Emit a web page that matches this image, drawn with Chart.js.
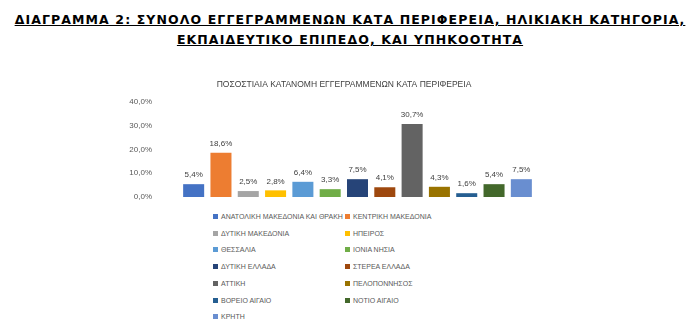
<!DOCTYPE html>
<html>
<head>
<meta charset="utf-8">
<script src="https://cdn.jsdelivr.net/npm/chart.js@4/dist/chart.umd.min.js"></script>
<style>
    body { margin: 0; background: #fff; width: 700px; height: 326px; overflow: hidden; position: relative; font-family: "Liberation Sans", sans-serif; }
    #heading { position: absolute; left: 0; top: 10px; width: 700px; text-align: center; font-family: "DejaVu Sans", sans-serif; font-weight: bold; font-size: 12.5px; line-height: 20px; text-decoration: underline; color: #000; letter-spacing: 1.1px; }
    #regionChart { position: absolute; left: 100px; top: 70px; }
    #legend { position: absolute; left: 213px; top: 212px; width: 300px; }
    .lg { position: absolute; font-size: 7px; color: #595959; white-space: nowrap; line-height: 10px; }
    .lg i { display: inline-block; width: 5px; height: 5px; margin-right: 3px; vertical-align: 0px; }
</style>
</head>
<body>
<div id="heading">ΔΙΑΓΡΑΜΜΑ 2: ΣΥΝΟΛΟ ΕΓΓΕΓΡΑΜΜΕΝΩΝ ΚΑΤΑ ΠΕΡΙΦΕΡΕΙΑ, ΗΛΙΚΙΑΚΗ ΚΑΤΗΓΟΡΙΑ,<br>ΕΚΠΑΙΔΕΥΤΙΚΟ ΕΠΙΠΕΔΟ, ΚΑΙ ΥΠΗΚΟΟΤΗΤΑ</div>
<canvas id="regionChart" width="488" height="135"></canvas>
<div id="legend"></div>
<script>
// --- Data ---
const regions = [
    'ΑΝΑΤΟΛΙΚΗ ΜΑΚΕΔΟΝΙΑ ΚΑΙ ΘΡΑΚΗ', 'ΚΕΝΤΡΙΚΗ ΜΑΚΕΔΟΝΙΑ', 'ΔΥΤΙΚΗ ΜΑΚΕΔΟΝΙΑ', 'ΗΠΕΙΡΟΣ',
    'ΘΕΣΣΑΛΙΑ', 'ΙΟΝΙΑ ΝΗΣΙΑ', 'ΔΥΤΙΚΗ ΕΛΛΑΔΑ', 'ΣΤΕΡΕΑ ΕΛΛΑΔΑ', 'ΑΤΤΙΚΗ',
    'ΠΕΛΟΠΟΝΝΗΣΟΣ', 'ΒΟΡΕΙΟ ΑΙΓΑΙΟ', 'ΝΟΤΙΟ ΑΙΓΑΙΟ', 'ΚΡΗΤΗ'
];
const shares = [5.4, 18.6, 2.5, 2.8, 6.4, 3.3, 7.5, 4.1, 30.7, 4.3, 1.6, 5.4, 7.5];
const yTickLabels = ['0,0%', '10,0%', '20,0%', '30,0%', '40,0%'];
const barColors = [
    '#4472C4', '#ED7D31', '#A5A5A5', '#FFC000', '#5B9BD5', '#70AD47', '#264478',
    '#9E480E', '#636363', '#997300', '#255E91', '#43682B', '#698ED0'
];
const chartTitle = 'ΠΟΣΟΣΤΙΑΙΑ ΚΑΤΑΝΟΜΗ ΕΓΓΕΓΡΑΜΜΕΝΩΝ ΚΑΤΑ ΠΕΡΙΦΕΡΕΙΑ';

const fmt = (v) => v.toFixed(1).replace('.', ',') + '%';

// labels above bars + title centred on the whole canvas
const valueLabels = {
    id: 'valueLabels',
    afterDatasetsDraw(chart) {
        const ctx = chart.ctx;
        const meta = chart.getDatasetMeta(0);
        ctx.save();
        ctx.font = '8px "Liberation Sans", sans-serif';
        ctx.fillStyle = '#404040';
        ctx.textAlign = 'center';
        ctx.textBaseline = 'middle';
        meta.data.forEach((bar, i) => {
            ctx.fillText(fmt(shares[i]), bar.x, bar.y - 9);
        });
        ctx.font = '8.5px "Liberation Sans", sans-serif';
        ctx.fillText(chartTitle, chart.width / 2, 15);
        ctx.restore();
    }
};

new Chart(document.getElementById('regionChart'), {
    type: 'bar',
    data: {
        labels: regions,
        datasets: [{
            data: shares,
            backgroundColor: barColors,
            barPercentage: 0.77,
            categoryPercentage: 1
        }]
    },
    options: {
        responsive: false,
        animation: false,
        layout: { padding: { top: 32, right: 53, bottom: 8, left: 0 } },
        scales: {
            x: {
                display: false
            },
            y: {
                min: 0,
                max: 40,
                ticks: {
                    stepSize: 10,
                    color: '#595959',
                    font: { size: 8, family: '"Liberation Sans", sans-serif' },
                    padding: 28,
                    callback: (v, i) => yTickLabels[i]
                },
                grid: { display: false, drawTicks: false },
                border: { display: false },
                afterFit: (scale) => {
                    scale.width = 80;
                    scale.paddingTop = 0;
                    scale.paddingBottom = 0;
                }
            }
        },
        plugins: {
            legend: { display: false },
            tooltip: { enabled: false }
        }
    },
    plugins: [valueLabels]
});

// --- Legend (two columns) ---
const legend = document.getElementById('legend');
regions.forEach((name, i) => {
    const el = document.createElement('div');
    el.className = 'lg';
    el.style.left = (i % 2 === 0 ? 0 : 132) + 'px';
    el.style.top = (Math.floor(i / 2) * 16.7) + 'px';
    el.innerHTML = `<i style="background:${barColors[i]}"></i>${name}`;
    legend.appendChild(el);
});
</script>
</body>
</html>
